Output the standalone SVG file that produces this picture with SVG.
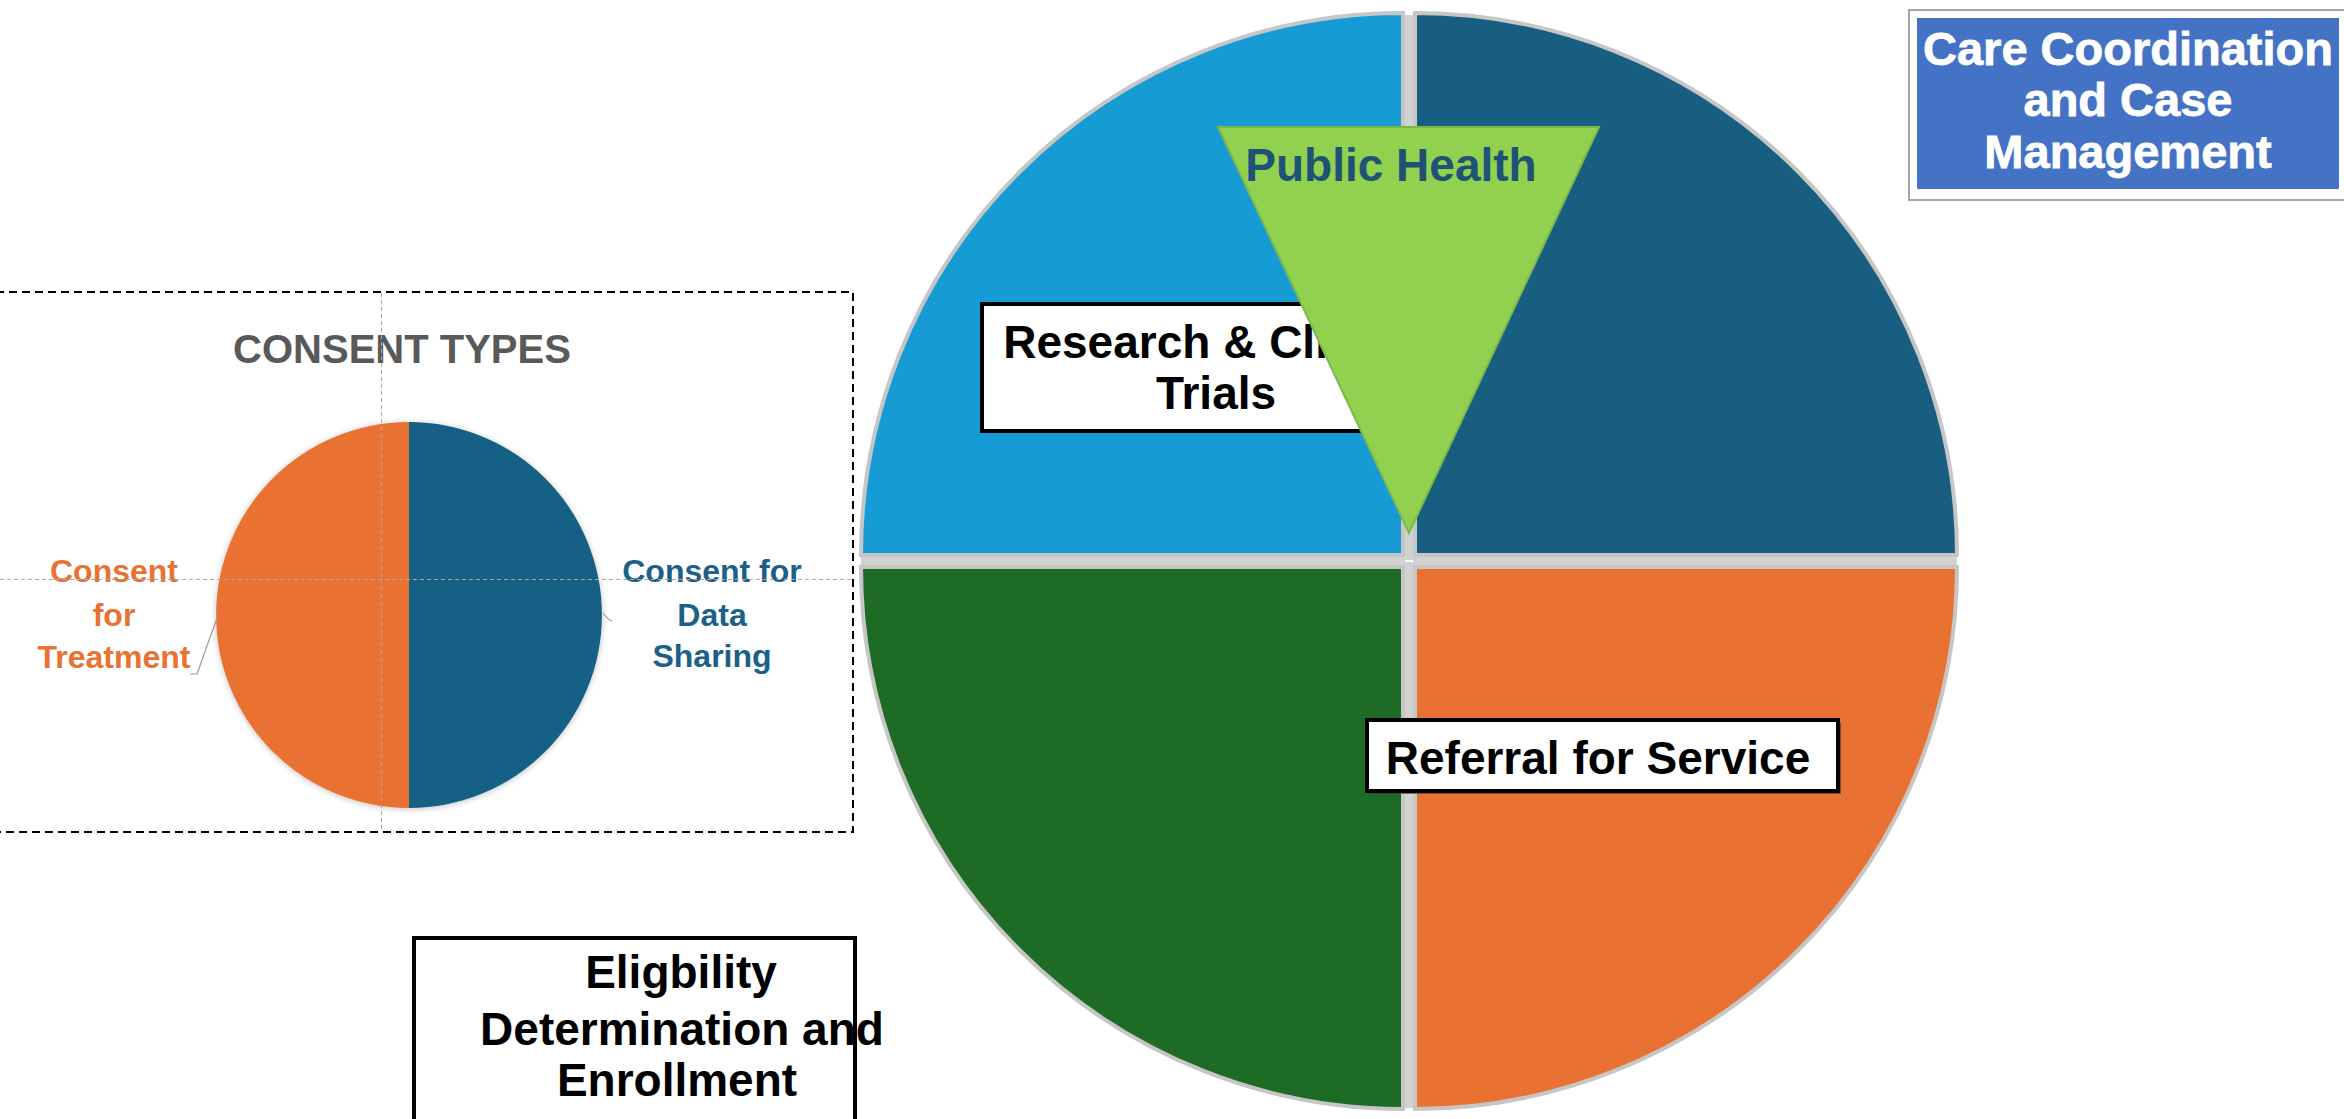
<svg xmlns="http://www.w3.org/2000/svg" width="2344" height="1119" viewBox="0 0 2344 1119">
  <style>
    .lbl { font-family: "Liberation Sans", Arial, sans-serif; font-weight: bold; }
    .boxtxt { font-family: "Liberation Sans", Arial, sans-serif; font-weight: bold; font-size: 46px; fill: #000; text-anchor: middle; }
    .caretxt { font-family: "Liberation Sans", Arial, sans-serif; font-weight: bold; font-size: 47px; fill: #fff; text-anchor: middle; stroke: #fff; stroke-width: 0.8; }
    .consent { font-family: "Liberation Sans", Arial, sans-serif; font-weight: bold; font-size: 32px; text-anchor: middle; }
    .slice { stroke: #c6c6c6; stroke-width: 4; }
    .guide { stroke: #a8a8a8; stroke-width: 1; stroke-dasharray: 4 3; fill: none; }
    .label-box { fill: #fff; stroke: #000; stroke-width: 4; }
  </style>
  <defs>
    <filter id="soft" x="-10%" y="-10%" width="120%" height="120%">
      <feGaussianBlur in="SourceAlpha" stdDeviation="3"/>
      <feOffset dx="0" dy="1"/>
      <feComponentTransfer><feFuncA type="linear" slope="0.25"/></feComponentTransfer>
      <feMerge><feMergeNode/><feMergeNode in="SourceGraphic"/></feMerge>
    </filter>
  </defs>

  <rect width="2344" height="1119" fill="#ffffff"/>

  <!-- Consent types panel -->
  <g id="consent-panel">
    <rect x="-4" y="292" width="857" height="540" fill="none" stroke="#000" stroke-width="2" stroke-dasharray="8 5"/>
    <text x="402" y="363" class="lbl" font-size="40" fill="#595959" text-anchor="middle">CONSENT TYPES</text>
  </g>

  <g id="consent-pie" filter="url(#soft)">
    <path d="M409,422 A193,193 0 0 0 409,808 Z" fill="#E97132"/>
    <path d="M409,422 A193,193 0 0 1 409,808 Z" fill="#176085"/>
  </g>

  <g id="consent-treatment">
    <text class="consent" fill="#E97132"><tspan x="114" y="582">Consent</tspan><tspan x="114" y="626">for</tspan><tspan x="114" y="668">Treatment</tspan></text>
  </g>
  <g id="consent-data-sharing">
    <text class="consent" fill="#1B6086"><tspan x="712" y="582">Consent for</tspan><tspan x="712" y="626">Data</tspan><tspan x="712" y="667">Sharing</tspan></text>
  </g>

  <!-- guide lines across the consent panel -->
  <g id="guides">
    <line x1="381.5" y1="293" x2="381.5" y2="832" class="guide"/>
    <line x1="0" y1="579.5" x2="853" y2="579.5" class="guide"/>
  </g>

  <!-- Big four-part pie -->
  <g id="main-pie">
    <rect x="1403" y="15" width="12" height="1093" fill="#d2d2d2"/>
    <rect x="861" y="555" width="1096" height="12" fill="#d2d2d2"/>
    <line x1="1405" y1="561" x2="1413" y2="561" stroke="#ffffff" stroke-width="2"/>
    <g id="slice-research">
      <path class="slice" d="M1403,555 L861,555 A542,542 0 0 1 1403,13 Z" fill="#169BD5"/>
    </g>
    <g id="slice-care">
      <path class="slice" d="M1415,555 L1415,13 A542,542 0 0 1 1957,555 Z" fill="#185E80"/>
    </g>
    <g id="slice-eligibility">
      <path class="slice" d="M1403,567 L1403,1109 A542,542 0 0 1 861,567 Z" fill="#1D6B25"/>
    </g>
    <g id="slice-referral">
      <path class="slice" d="M1415,567 L1957,567 A542,542 0 0 1 1415,1109 Z" fill="#E97132"/>
    </g>
  </g>

  <!-- Research & Clinical Trials label -->
  <g id="research-label">
    <rect x="982" y="304" width="470" height="127" class="label-box"/>
    <text class="boxtxt"><tspan x="1218" y="358">Research &amp; Clinical</tspan><tspan x="1216" y="409">Trials</tspan></text>
  </g>

  <!-- Public Health wedge -->
  <g id="public-health">
    <polygon points="1218,127 1599,127 1409,533" fill="#92D050" stroke="#7DB84A" stroke-width="2"/>
    <text x="1391" y="181" class="lbl" font-size="46" fill="#1E5276" text-anchor="middle">Public Health</text>
  </g>

  <!-- Referral for Service label -->
  <g id="referral-label">
    <rect x="1370" y="723" width="471" height="71" fill="#333" opacity="0.6"/>
    <rect x="1367" y="720" width="471" height="71" class="label-box"/>
    <text x="1598" y="774" class="boxtxt">Referral for Service</text>
  </g>

  <!-- Care Coordination label -->
  <g id="care-label">
    <rect x="1909" y="10" width="440" height="190" fill="#fff" stroke="#a6a6a6" stroke-width="2"/>
    <rect x="1917" y="18" width="422" height="171" fill="#4472C4"/>
    <text class="caretxt"><tspan x="2128" y="65">Care Coordination</tspan><tspan x="2128" y="116">and Case</tspan><tspan x="2128" y="168">Management</tspan></text>
  </g>

  <!-- Eligibility label -->
  <g id="eligibility-label">
    <rect x="414" y="938" width="441" height="200" class="label-box"/>
    <text class="boxtxt"><tspan x="681" y="988">Eligbility</tspan><tspan x="682" y="1045">Determination and</tspan><tspan x="677" y="1096">Enrollment</tspan></text>
  </g>

  <!-- leader lines from the consent labels to the pie -->
  <g id="connectors" fill="none" stroke="#9a9a9a" stroke-width="1.2">
    <polyline points="190,674 197,674 217,618"/>
    <path d="M603,613 Q607,619 612,621"/>
  </g>
</svg>
